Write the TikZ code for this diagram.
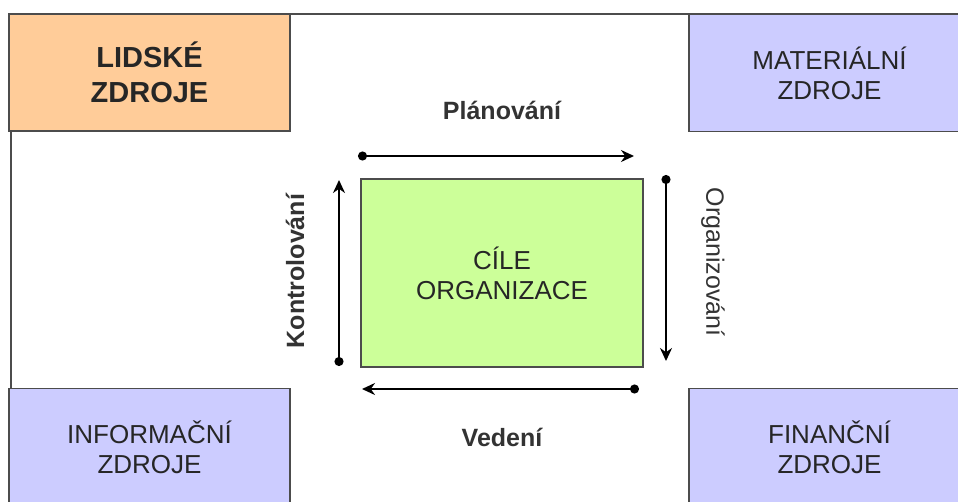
\documentclass[tikz,border=0pt]{standalone}
\usepackage{fontspec}
\setmainfont{Liberation Sans}
\usetikzlibrary{arrows.meta,positioning,calc}
\definecolor{resblue}{HTML}{CCCCFF}
\definecolor{resorange}{HTML}{FFCC99}
\definecolor{goalgreen}{HTML}{CCFF99}

\begin{document}
\begin{tikzpicture}[x=1pt,y=-1pt,
  res/.style={draw=black!70,line width=1.5pt,fill=resblue,align=center,inner sep=0pt,
    minimum width=281pt,minimum height=117pt,font=\fontsize{26}{30}\selectfont,text=black!85},
  goal/.style={res,fill=goalgreen,minimum width=282pt,minimum height=188pt},
  lbl/.style={font=\bfseries\fontsize{25}{30}\selectfont,text=black!80},
  flow/.style={line width=2pt,{Circle[length=9pt]}-{Stealth[length=13pt,width=12pt]}}]
\useasboundingbox (0,0) rectangle (958,501);
\clip (0,0) rectangle (958,501);
% outer frame (runs off the page on the right and at the bottom)
\draw[black!70,line width=1.2pt] (11,14) rectangle (975,510);
\node[res,fill=resorange,font=\bfseries\fontsize{29}{35}\selectfont] (LZ) at (149.5,72.5) {LIDSKÉ\\ZDROJE};
\node[res] (MZ) at (829.5,73) {MATERIÁLNÍ\\ZDROJE};
\node[res] (IZ) at (149.5,447) {INFORMAČNÍ\\ZDROJE};
\node[res] (FZ) at (829.5,447) {FINANČNÍ\\ZDROJE};
\node[goal] (CO) at (502,273) {CÍLE\\ORGANIZACE};
% management functions round the goals
\coordinate (pl1) at (358,156); \coordinate (pl2) at (634,156);
\coordinate (or1) at (666,175); \coordinate (or2) at (666,361);
\coordinate (ve1) at (639,389); \coordinate (ve2) at (362,389);
\coordinate (ko1) at (339,366); \coordinate (ko2) at (339,180);
\draw[flow] (pl1) -- (pl2);
\draw[flow] (or1) -- (or2);
\draw[flow] (ve1) -- (ve2);
\draw[flow] (ko1) -- (ko2);
\node[lbl] (PL) at (502,110) {Plánování};
\node[lbl,font=\fontsize{25}{30}\selectfont,rotate=-90] (OR) at (713,262) {Organizování};
\node[lbl] (VE) at (502,437) {Vedení};
\node[lbl,rotate=90] (KO) at (295,271) {Kontrolování};
\end{tikzpicture}
\end{document}
